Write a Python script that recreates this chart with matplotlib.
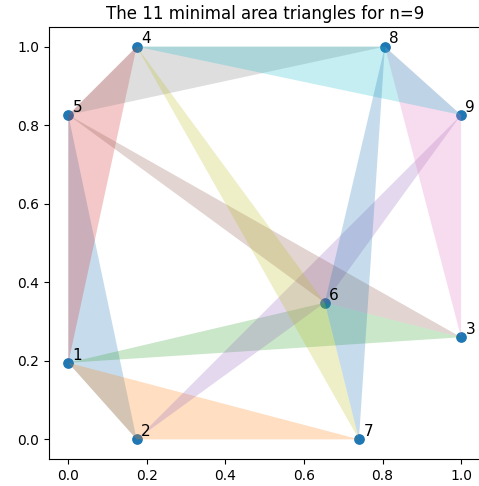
import matplotlib
matplotlib.use('Agg')
import matplotlib.pyplot as plt

# points of the n=9 configuration, labelled 1..9
xs = [0.0, 0.174, 1.0, 0.174, 0.0, 0.653, 0.740, 0.806, 1.0]
ys = [0.195, 0.0, 0.260, 1.0, 0.826, 0.348, 0.0, 1.0, 0.826]
labels = [str(i) for i in range(1, 10)]

# the 11 minimal area triangles (1-based point indices)
triangles = [
    (1, 2, 5), (1, 2, 7), (1, 3, 6), (1, 4, 5), (2, 6, 9), (3, 5, 6),
    (3, 8, 9), (4, 5, 8), (4, 6, 7), (4, 8, 9), (6, 7, 8),
]

fig = plt.figure(figsize=(4.79, 4.86), dpi=100)
W, H = 479, 486
ax = fig.add_axes([48.7 / W, (486 - 459) / H, 432 / W, 432 / H])

ax.scatter(xs, ys, s=45, color='C0')
for lab, x, y in zip(labels, xs, ys):
    ax.text(x + 0.011, y + 0.008, lab, fontsize=11)

for k, tri in enumerate(triangles):
    tx = [xs[i - 1] for i in tri]
    ty = [ys[i - 1] for i in tri]
    ax.fill(tx, ty, color='C%d' % (k % 10), alpha=0.25, linewidth=0)

ax.set_xlim(-0.05, 1.05)
ax.set_ylim(-0.05, 1.05)
ax.set_xticks([0.0, 0.2, 0.4, 0.6, 0.8, 1.0])
ax.set_yticks([0.0, 0.2, 0.4, 0.6, 0.8, 1.0])
ax.set_title('The 11 minimal area triangles for n=9')

fig.savefig('out.png', dpi=100)
